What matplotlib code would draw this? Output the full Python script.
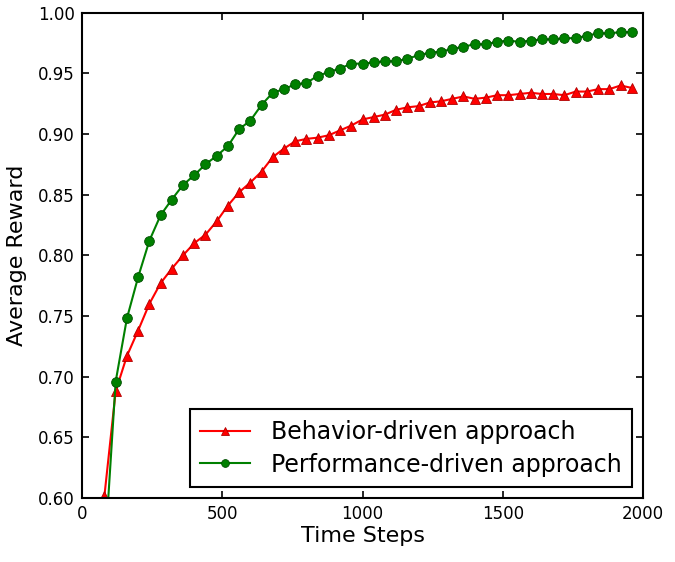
import matplotlib
matplotlib.use("Agg")
import matplotlib.pyplot as plt

# time steps (every 40 steps)
steps = list(range(80, 2000, 40))

behavior = [0.602, 0.688, 0.717, 0.738, 0.760, 0.777, 0.789, 0.800, 0.810, 0.817,
            0.828, 0.841, 0.852, 0.860, 0.869, 0.881, 0.888, 0.894, 0.896, 0.897,
            0.899, 0.903, 0.907, 0.912, 0.914, 0.916, 0.920, 0.922, 0.923, 0.926,
            0.927, 0.929, 0.931, 0.929, 0.930, 0.932, 0.932, 0.933, 0.934, 0.933,
            0.933, 0.932, 0.935, 0.935, 0.937, 0.937, 0.940, 0.938]

performance = [0.55, 0.696, 0.748, 0.782, 0.812, 0.833, 0.846, 0.858, 0.866, 0.875,
               0.882, 0.890, 0.904, 0.911, 0.924, 0.934, 0.937, 0.941, 0.942, 0.948,
               0.951, 0.954, 0.958, 0.958, 0.959, 0.960, 0.960, 0.962, 0.965, 0.967,
               0.968, 0.970, 0.972, 0.974, 0.974, 0.976, 0.977, 0.976, 0.977, 0.978,
               0.978, 0.979, 0.979, 0.981, 0.983, 0.983, 0.984, 0.984]

fig = plt.figure(figsize=(6.75, 5.62), dpi=100)
ax = fig.add_axes([0.1215, 0.1139, 0.8311, 0.8635])

ax.plot(steps, behavior, color='r', lw=1.5, marker='^', ms=7,
        mec='#b00000', mew=0.6, label='Behavior-driven approach')
ax.plot(steps, performance, color='g', lw=1.5, marker='o', ms=7,
        mec='#004d00', mew=0.6, label='Performance-driven approach')

ax.set_xlim(0, 2000)
ax.set_ylim(0.60, 1.00)
ax.set_xticks([0, 500, 1000, 1500, 2000])
ax.set_yticks([0.60, 0.65, 0.70, 0.75, 0.80, 0.85, 0.90, 0.95, 1.00])
ax.set_yticklabels(['%.2f' % v for v in ax.get_yticks()])

ax.tick_params(direction='in', top=True, right=True, length=5, width=1.2,
               labelsize=12, pad=5)
for s in ax.spines.values():
    s.set_linewidth(1.5)

ax.set_xlabel('Time Steps', fontsize=16, labelpad=2)
ax.set_ylabel('Average Reward', fontsize=16, labelpad=8)

leg = ax.legend(loc='lower right', fontsize=17, numpoints=1, fancybox=False,
                handlelength=2.1, borderaxespad=0.45, labelspacing=0.38,
                borderpad=0.45, handletextpad=0.9, markerscale=0.8,
                framealpha=1)
leg.get_frame().set_edgecolor('black')
leg.get_frame().set_linewidth(1.5)

fig.savefig('out.png', dpi=100)
